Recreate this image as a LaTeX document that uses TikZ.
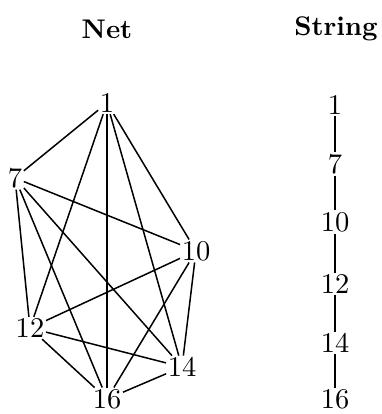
\documentclass[tikz,border=0pt]{standalone}
\newcommand\BN[1]{\scalebox{2.85}{#1}}
\newcommand\BT[1]{\scalebox{2.7}{\bfseries #1}}
\begin{document}
\begin{tikzpicture}[x=1pt,y=-1pt,
  num/.style={inner sep=1.5pt},
  ttl/.style={inner sep=0pt},
  edge/.style={line width=1.5pt}]
\useasboundingbox (0,0) rectangle (381,414);
\node[ttl] (tnet) at (107,29) {\BT{Net}};
\node[ttl] (tstr) at (336,29) {\BT{String}};
% Net
\node[num] (n1) at (107,103) {\BN{1}};
\node[num] (n7) at (15,178) {\BN{7}};
\node[num] (n10) at (196,251) {\BN{10}};
\node[num] (n12) at (30,328) {\BN{12}};
\node[num] (n14) at (182,367) {\BN{14}};
\node[num] (n16) at (107,399) {\BN{16}};
\foreach \a/\b in {1/7,1/10,1/12,1/14,1/16,7/10,7/12,7/14,7/16,10/12,10/14,10/16,12/14,12/16,14/16}
  \draw[edge] (n\a) -- (n\b);
% String
\node[num] (s1) at (335,105) {\BN{1}};
\node[num] (s7) at (335,164) {\BN{7}};
\node[num] (s10) at (335,222) {\BN{10}};
\node[num] (s12) at (335,284) {\BN{12}};
\node[num] (s14) at (335,343) {\BN{14}};
\node[num] (s16) at (335,399) {\BN{16}};
\foreach \a/\b in {1/7,7/10,10/12,12/14,14/16}
  \draw[edge] (s\a) -- (s\b);
\end{tikzpicture}
\end{document}
